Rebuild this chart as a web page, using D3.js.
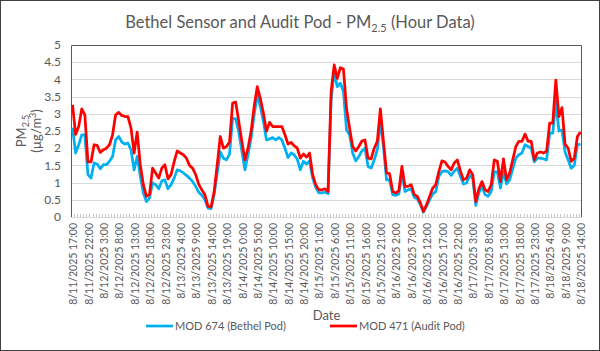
<!DOCTYPE html>
<html>
<head>
<meta charset="utf-8">
<script src="https://cdn.jsdelivr.net/npm/d3@7"></script>
<style>
  body { margin: 0; background: #fff; }
  svg { display: block; font-family: Lato, "Open Sans", sans-serif; }
</style>
</head>
<body>
<div id="chart"></div>
<script>
// hourly readings, 8/11/2025 17:00 .. 8/18/2025 14:00
const startHour = new Date(2025, 7, 11, 17);
const hourCount = 166;

const bethelValues = [
  2.6, 1.86, 2.1, 2.39, 2.39, 1.23, 1.13, 1.57, 1.54, 1.4,
  1.52, 1.52, 1.62, 1.76, 2.24, 2.34, 2.18, 2.12, 2.15, 1.95,
  1.37, 1.76, 1.18, 0.7, 0.45, 0.55, 0.99, 0.94, 0.82, 1.05,
  1.08, 0.82, 0.94, 1.13, 1.37, 1.34, 1.28, 1.21, 1.13, 1.03,
  0.89, 0.72, 0.63, 0.5, 0.26, 0.24, 0.65, 1.28, 1.89, 1.71,
  1.66, 1.83, 2.87, 2.85, 2.47, 1.91, 1.37, 1.81, 2.29, 2.97,
  3.55, 3.21, 2.78, 2.24, 2.27, 2.31, 2.24, 2.31, 2.24, 2.0,
  1.73, 1.86, 1.81, 1.68, 1.37, 1.62, 1.54, 1.63, 1.13, 0.86,
  0.7, 0.7, 0.72, 0.68, 3.4, 4.23, 3.79, 3.89, 3.65, 2.53,
  2.39, 1.86, 1.63, 1.76, 1.92, 2.0, 1.47, 1.42, 1.66, 1.95,
  2.78, 2.05, 1.08, 1.08, 0.65, 0.63, 0.67, 1.28, 0.74, 0.79,
  0.82, 0.57, 0.53, 0.36, 0.14, 0.31, 0.5, 0.67, 0.74, 1.18,
  1.32, 1.34, 1.32, 1.21, 1.33, 1.42, 1.18, 0.96, 0.99, 1.21,
  1.13, 0.34, 0.7, 0.89, 0.65, 0.6, 0.74, 1.31, 1.31, 0.84,
  1.32, 0.96, 1.08, 1.4, 1.71, 1.81, 1.86, 2.1, 2.05, 2.0,
  1.6, 1.71, 1.71, 1.69, 1.66, 2.44, 2.44, 3.36, 2.5, 2.53,
  1.89, 1.66, 1.42, 1.5, 2.1, 2.12
];

const auditValues = [
  3.26, 2.4, 2.63, 3.14, 2.97, 1.6, 1.6, 2.1, 2.08, 1.88,
  1.95, 2.0, 2.1, 2.39, 2.97, 3.04, 2.95, 2.92, 2.92, 2.58,
  1.86, 2.47, 1.52, 0.94, 0.6, 0.65, 1.42, 1.28, 1.13, 1.42,
  1.52, 1.11, 1.23, 1.6, 1.92, 1.86, 1.81, 1.71, 1.5, 1.42,
  1.23, 0.95, 0.79, 0.65, 0.31, 0.29, 0.74, 1.52, 2.34, 2.0,
  2.05, 2.18, 3.31, 3.34, 2.78, 2.2, 1.66, 2.0, 2.49, 3.21,
  3.79, 3.45, 3.02, 2.49, 2.75, 2.63, 2.63, 2.63, 2.63, 2.39,
  2.12, 2.17, 2.07, 2.0, 1.71, 1.83, 1.74, 1.86, 1.23, 0.94,
  0.79, 0.79, 0.82, 0.74, 3.65, 4.42, 4.03, 4.34, 4.3, 3.16,
  2.58, 2.05, 1.92, 2.05, 2.21, 2.24, 1.71, 1.69, 2.0, 2.2,
  3.14, 2.2, 1.28, 1.26, 0.74, 0.7, 0.76, 1.47, 0.89, 0.89,
  0.94, 0.65, 0.6, 0.41, 0.16, 0.36, 0.6, 0.84, 0.94, 1.32,
  1.63, 1.6, 1.47, 1.37, 1.57, 1.66, 1.34, 1.08, 1.13, 1.37,
  1.23, 0.45, 0.82, 1.03, 0.79, 0.74, 0.94, 1.66, 1.62, 1.03,
  1.69, 1.08, 1.28, 1.66, 2.05, 2.2, 2.2, 2.41, 2.2, 2.2,
  1.66, 1.86, 1.89, 1.86, 1.91, 2.73, 2.73, 3.98, 2.92, 3.18,
  2.12, 2.0, 1.62, 1.71, 2.34, 2.47
];

const yTicks = [0, 0.5, 1, 1.5, 2, 2.5, 3, 3.5, 4, 4.5, 5];

const seriesNames = ["MOD 674 (Bethel Pod)", "MOD 471 (Audit Pod)"];
const seriesColors = ["#00b0f0", "#ff0000"];

const fmtHour = d3.timeFormat("%-m/%-d/%Y %-H:%M");
const hours = d3.range(hourCount).map((i) => fmtHour(d3.timeHour.offset(startHour, i)));
const tickLabels = hours.filter((_, i) => i % 5 === 0);

const width = 600;
const height = 351;
const margin = { top: 45, right: 18, bottom: 134, left: 71 };
const innerWidth = width - margin.left - margin.right;
const innerHeight = height - margin.top - margin.bottom;

const svg = d3.select("#chart")
  .append("svg")
  .attr("width", width)
  .attr("height", height);

svg.append("rect")
  .attr("x", 0.5)
  .attr("y", 0.5)
  .attr("width", width - 1)
  .attr("height", height - 1)
  .attr("fill", "#fff")
  .attr("stroke", "#404040");

// title
const title = svg.append("text")
  .attr("x", width / 2)
  .attr("y", 28)
  .attr("text-anchor", "middle")
  .attr("fill", "#595959")
  .attr("font-size", 16.5);
title.append("tspan").text("Bethel Sensor and Audit Pod - PM");
title.append("tspan").attr("font-size", 11).attr("dy", 4).text("2.5");
title.append("tspan").attr("dy", -4).text(" (Hour Data)");

const chart = svg.append("g")
  .attr("transform", `translate(${margin.left},${margin.top})`);

const xScale = d3.scaleBand()
  .domain(hours)
  .range([0, innerWidth])
  .paddingInner(0)
  .paddingOuter(0);

const yScale = d3.scaleLinear()
  .domain([0, 5])
  .range([innerHeight, 0]);

// gridlines
chart.selectAll(".grid")
  .data(yTicks.filter((d) => d > 0 && d < 5))
  .join("line")
  .attr("class", "grid")
  .attr("x1", 0)
  .attr("x2", innerWidth)
  .attr("y1", (d) => Math.round(yScale(d)) + 0.5)
  .attr("y2", (d) => Math.round(yScale(d)) + 0.5)
  .attr("stroke", "#d9d9d9");

// category tick marks along bottom
chart.selectAll(".cat-tick")
  .data(hours)
  .join("line")
  .attr("class", "cat-tick")
  .attr("x1", (d) => Math.round(xScale(d)) + 0.5)
  .attr("x2", (d) => Math.round(xScale(d)) + 0.5)
  .attr("y1", innerHeight - 3)
  .attr("y2", innerHeight)
  .attr("stroke", "#c8c8c8");

chart.append("line")
  .attr("x1", 0)
  .attr("x2", innerWidth)
  .attr("y1", innerHeight + 0.5)
  .attr("y2", innerHeight + 0.5)
  .attr("stroke", "#d9d9d9");

// plot frame (top, left, right)
chart.append("path")
  .attr("d", `M0.5,${innerHeight}V0.5H${innerWidth - 0.5}V${innerHeight}`)
  .attr("fill", "none")
  .attr("stroke", "#595959");

// y axis labels
chart.selectAll(".y-label")
  .data(yTicks)
  .join("text")
  .attr("class", "y-label")
  .attr("x", -10)
  .attr("y", (d) => yScale(d))
  .attr("dy", "0.35em")
  .attr("text-anchor", "end")
  .attr("fill", "#595959")
  .attr("font-size", 12)
  .text((d) => d);

// x axis labels
chart.selectAll(".x-label")
  .data(tickLabels)
  .join("text")
  .attr("class", "x-label")
  .attr("transform", (d) =>
    `translate(${xScale(d) + xScale.bandwidth() / 2 + 1},${innerHeight + 6}) rotate(-90)`)
  .attr("dy", "0.35em")
  .attr("text-anchor", "end")
  .attr("fill", "#595959")
  .attr("font-size", 10.5)
  .text((d) => d);

// lines
const line = d3.line()
  .x((d, i) => xScale(hours[i]) + xScale.bandwidth() / 2)
  .y((d) => yScale(d));

[bethelValues, auditValues].forEach((values, k) => {
  chart.append("path")
    .datum(values)
    .attr("fill", "none")
    .attr("stroke", seriesColors[k])
    .attr("stroke-width", 2.75)
    .attr("stroke-linejoin", "round")
    .attr("d", line);
});

// axis titles
svg.append("text")
  .attr("x", margin.left + innerWidth / 2)
  .attr("y", 320)
  .attr("text-anchor", "middle")
  .attr("fill", "#595959")
  .attr("font-size", 13)
  .text("Date");

const yTitle = svg.append("text")
  .attr("transform", `translate(26,${margin.top + innerHeight / 2}) rotate(-90)`)
  .attr("text-anchor", "middle")
  .attr("fill", "#595959")
  .attr("font-size", 13);
yTitle.append("tspan").text("PM");
yTitle.append("tspan").attr("font-size", 9).attr("dy", 3).text("2.5");

const yTitle2 = svg.append("text")
  .attr("transform", `translate(41,${margin.top + innerHeight / 2}) rotate(-90)`)
  .attr("text-anchor", "middle")
  .attr("fill", "#595959")
  .attr("font-size", 13);
yTitle2.append("tspan").text("(µg/m");
yTitle2.append("tspan").attr("font-size", 9).attr("dy", -5).text("3");
yTitle2.append("tspan").attr("dy", 5).text(")");

// legend
const legendX = [146, 330];
const legend = svg.selectAll(".legend")
  .data(seriesNames)
  .join("g")
  .attr("class", "legend")
  .attr("transform", (d, i) => `translate(${legendX[i]},326)`);

legend.append("line")
  .attr("x1", 0)
  .attr("x2", 27)
  .attr("stroke", (d, i) => seriesColors[i])
  .attr("stroke-width", 2.75);

legend.append("text")
  .attr("x", 29)
  .attr("dy", "0.35em")
  .attr("fill", "#595959")
  .attr("font-size", 11)
  .text((d) => d);
</script>
</body>
</html>
